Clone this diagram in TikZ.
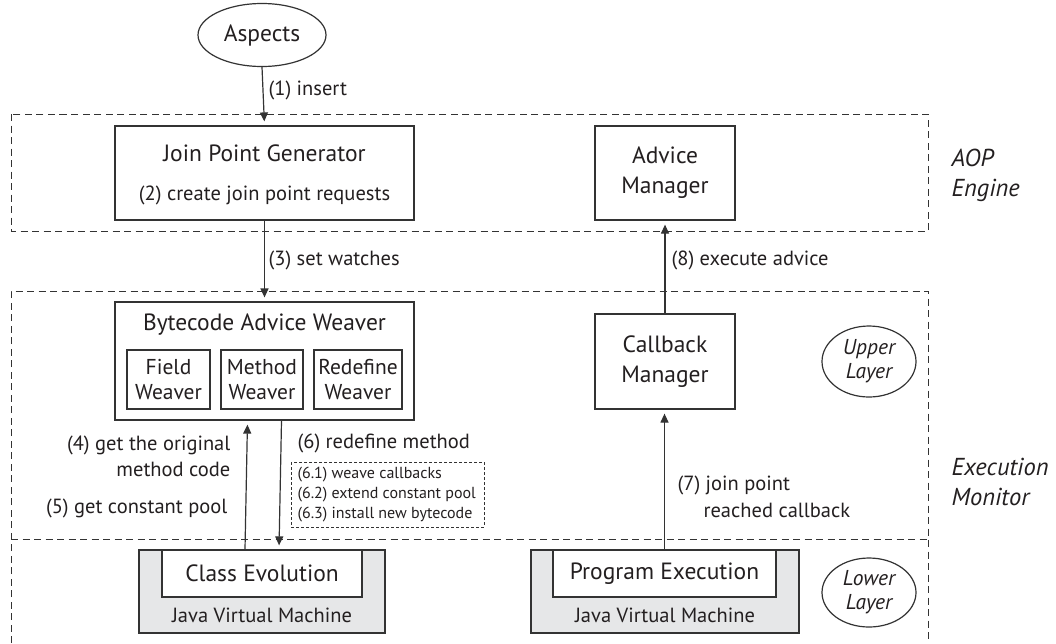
\documentclass[tikz,border=0pt]{standalone}
\usepackage{fontspec}
\setmainfont{PT Sans}
\usetikzlibrary{shapes.geometric,arrows.meta}
\definecolor{ink}{HTML}{333333}
\definecolor{txt}{HTML}{231F20}
\definecolor{vmgray}{HTML}{E6E7E8}
\begin{document}
\begin{tikzpicture}[x=1pt,y=-1pt,
  line width=1.2pt, text=txt,
  box/.style={draw=ink, fill=white, inner sep=0pt},
  big/.style={font=\fontsize{23.5}{30}\selectfont},
  tight/.style={font=\fontsize{21.5}{25}\selectfont},
  lbl/.style={font=\fontsize{20.5}{26}\selectfont, inner sep=0pt},
  small/.style={font=\fontsize{16}{20}\selectfont, inner sep=0pt},
  side/.style={font=\fontsize{24.5}{30}\selectfont\itshape, inner sep=0pt, align=left, anchor=west},
  layer/.style={draw=ink, ellipse, inner sep=0pt, font=\fontsize{21.5}{24}\selectfont\itshape, align=center},
  arr/.style={draw=ink, -{Triangle[length=9pt,width=8pt]}, shorten >=4pt},
  zone/.style={draw=ink, line width=1pt, dash pattern=on 7pt off 4.5pt}]
\useasboundingbox (0,0) rectangle (1056,643);

% layer frames
\draw[zone] (11,114) rectangle (928,231);
\draw[zone] (11,643) -- (11,291) -- (928,291) -- (928,643);
\draw[zone] (11,539) -- (928,539);

% aspects
\node[draw=ink, ellipse, minimum width=128pt, minimum height=63pt, inner sep=0pt, big] (asp) at (262,35) {Aspects};

% AOP engine
\node[box, minimum width=299pt, minimum height=94pt] (jpg) at (264.5,173) {};
\node[big, inner sep=0pt] (jpgt) at (264.5,153) {Join Point Generator};
\node[lbl] (jpgr) at (264.5,195) {(2) create join point requests};
\node[box, big, align=center, minimum width=140pt, minimum height=94pt] (adv) at (665,173) {Advice\\Manager};

% execution monitor, upper layer
\node[box, minimum width=299pt, minimum height=118pt] (baw) at (264.5,361) {};
\node[big, inner sep=0pt] (bawt) at (264.5,325) {Bytecode Advice Weaver};
\node[box, tight, align=center, minimum width=83pt, minimum height=59pt] (fw) at (168.5,379.5) {Field\\Weaver};
\node[box, tight, align=center, minimum width=82pt, minimum height=59pt] (mw) at (262,379.5) {Method\\Weaver};
\node[box, tight, align=center, minimum width=88pt, minimum height=59pt] (rw) at (358,379.5) {Redefine\\Weaver};
\node[box, big, align=center, minimum width=140pt, minimum height=95pt] (cbm) at (665,361.5) {Callback\\Manager};

% lower layer: virtual machines
\node[box, fill=vmgray, minimum width=246pt, minimum height=83pt] (jvm1) at (262,591.5) {};
\node[box, big, minimum width=200pt, minimum height=47pt] (ce) at (262,573.5) {Class Evolution};
\node[lbl] (jvm1t) at (262,615) {Java Virtual Machine};
\node[box, fill=vmgray, minimum width=268pt, minimum height=83pt] (jvm2) at (665,591.5) {};
\node[box, big, minimum width=223pt, minimum height=47pt] (pe) at (664.5,573.5) {Program Execution};
\node[lbl] (jvm2t) at (665,615) {Java Virtual Machine};

% layer tags
\node[layer, minimum width=94pt, minimum height=71pt] (ul) at (869,361.5) {Upper\\Layer};
\node[layer, minimum width=94pt, minimum height=69pt] (ll) at (869,592.5) {Lower\\Layer};
\node[side] (aop) at (951,175) {AOP\\Engine};
\node[side] (em) at (951,482) {Execution\\Monitor};

% connectors
\draw[arr] (asp.south) -- (jpg.north);
\draw[arr] (jpg.south) -- (baw.north);
\draw[arr] ([xshift=-17pt]ce.north) -- ([xshift=-17pt]baw.south);
\draw[arr] ([xshift=17pt]baw.south) -- ([xshift=17pt]ce.north);
\draw[arr] (pe.north) -- (pe.north |- cbm.south);
\draw[arr] (cbm.north) -- (adv.south);

% connector labels
\node[lbl, anchor=east, align=right] (l4) at (231,456) {(4) get the original\\method code};
\node[lbl, anchor=west] (l1) at (268,90) {(1) insert};
\node[lbl, anchor=west] (l3) at (268,260) {(3) set watches};
\node[lbl, anchor=west] (l8) at (671,260) {(8) execute advice};
\node[lbl, anchor=east] (l5) at (228,508) {(5) get constant pool};
\node[lbl, anchor=west] (l6) at (297,443) {(6) redefine method};
\node[lbl, anchor=west] (l7a) at (677,485) {(7) join point};
\node[lbl, anchor=west] (l7b) at (703,510) {reached callback};

% redefinition steps
\draw[draw=ink, line width=0.9pt, dash pattern=on 3pt off 2pt] (291,462) rectangle (484,527);
\node[small, anchor=west] (s1) at (297,475) {(6.1) weave callbacks};
\node[small, anchor=west] (s2) at (297,495) {(6.2) extend constant pool};
\node[small, anchor=west] (s3) at (297,515) {(6.3) install new bytecode};
\end{tikzpicture}
\end{document}
